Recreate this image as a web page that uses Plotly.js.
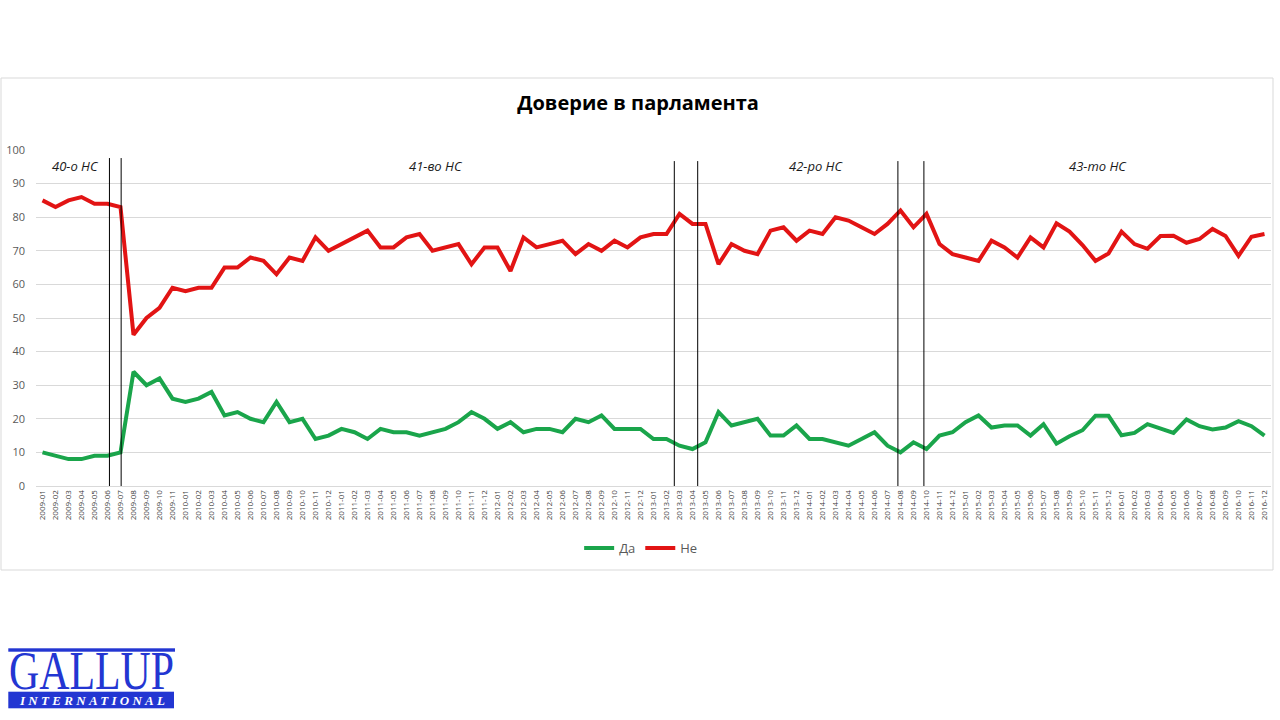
<!DOCTYPE html>
<html>
<head>
<meta charset="utf-8">
<script src="https://cdn.plot.ly/plotly-3.0.1.min.js"></script>
<style>
  body { margin: 0; background: #fff; }
  #wrap { position: relative; width: 1280px; height: 720px; }
  #chart { width: 1280px; height: 720px; }
  #logo { position: absolute; left: 0; top: 636px; }
</style>
</head>
<body>
<div id="wrap">
  <div id="chart"></div>
  <svg id="logo" width="260" height="84">
    <rect x="8.3" y="12.3" width="166.7" height="3.4" fill="#2336d2"></rect>
    <text x="9" y="53.3" fill="#2336d2" font-family="Liberation Serif" font-size="54" textLength="165" lengthAdjust="spacingAndGlyphs">GALLUP</text>
    <rect x="8.3" y="55.7" width="165.7" height="16.6" fill="#2336d2"></rect>
    <text x="20" y="69" fill="#ffffff" font-family="Liberation Serif" font-size="13" font-weight="bold" font-style="italic" textLength="145" lengthAdjust="spacing">INTERNATIONAL</text>
  </svg>
</div>
<script>

var months = [
 '2009-01','2009-02','2009-03','2009-04','2009-05','2009-06','2009-07','2009-08','2009-09','2009-10','2009-11',
 '2010-01','2010-02','2010-03','2010-04','2010-05','2010-06','2010-07','2010-08','2010-09','2010-10','2010-11','2010-12',
 '2011-01','2011-02','2011-03','2011-04','2011-05','2011-06','2011-07','2011-08','2011-09','2011-10','2011-11','2011-12',
 '2012-01','2012-02','2012-03','2012-04','2012-05','2012-06','2012-07','2012-08','2012-09','2012-10','2012-11','2012-12',
 '2013-01','2013-02','2013-03','2013-04','2013-05','2013-06','2013-07','2013-08','2013-09','2013-10','2013-11','2013-12',
 '2014-01','2014-02','2014-03','2014-04','2014-05','2014-06','2014-07','2014-08','2014-09','2014-10','2014-11','2014-12',
 '2015-01','2015-02','2015-03','2015-04','2015-05','2015-06','2015-07','2015-08','2015-09','2015-10','2015-11','2015-12',
 '2016-01','2016-02','2016-03','2016-04','2016-05','2016-06','2016-07','2016-08','2016-09','2016-10','2016-11','2016-12'
];

// "Да"
var yesVals = [
 10, 9, 8, 8, 9, 9, 10, 34, 30, 32, 26, 25, 26, 28,
 21, 22, 20, 19, 25, 19, 20, 14, 15, 17, 16, 14, 17, 16, 16, 15,
 16, 17, 19, 22, 20, 17, 19, 16, 17, 17, 16, 20, 19, 21, 17, 17, 17,
 14, 14, 12, 11, 13, 22, 18, 19, 20, 15, 15, 18, 14, 14, 13, 12,
 14, 16, 12, 10, 13, 11, 15, 16, 19, 21, 17.4, 18, 18, 15, 18.4, 12.6,
 14.8, 16.6, 20.9, 20.9, 15.1, 15.8, 18.4, 17, 15.8, 19.8, 17.8, 16.8, 17.4, 19.3, 17.8, 15
];

// "Не"
var noVals = [
 85, 83, 85, 86, 84, 84, 83, 45, 50, 53, 59, 58, 59, 59,
 65, 65, 68, 67, 63, 68, 67, 74, 70, 72, 74, 76, 71, 71, 74, 75,
 70, 71, 72, 66, 71, 71, 64, 74, 71, 72, 73, 69, 72, 70, 73, 71, 74,
 75, 75, 81, 78, 78, 66, 72, 70, 69, 76, 77, 73, 76, 75, 80, 79,
 77, 75, 78, 82, 77, 81, 72, 69, 68, 67, 73, 71, 68, 74, 71, 78.2,
 75.7, 71.7, 67, 69.2, 75.7, 72, 70.6, 74.4, 74.5, 72.4, 73.5, 76.5, 74.4, 68.5, 74.2, 75
];

var termLabels = ['40-о НС', '41-во НС', '42-ро НС', '43-то НС'];
var termLabelPos = [2.5, 30.3, 59.5, 81.2];
var termLinePos = [5.15, 6.05, 48.6, 50.4, 65.8, 67.8];

// plot area in pixels: left 36, top 150, width 1235, height 336
function px(x) { return (x - 36) / 1235; }
function py(y) { return (486 - y) / 336; }

var trace1 = {
  x: months,
  y: yesVals,
  name: 'Да',
  type: 'scatter',
  mode: 'lines',
  line: {color: '#1aa54b', width: 4}
};

var trace2 = {
  x: months,
  y: noVals,
  name: 'Не',
  type: 'scatter',
  mode: 'lines',
  line: {color: '#e21414', width: 4}
};

var shapes = [{
  type: 'rect', xref: 'paper', yref: 'paper',
  x0: px(1), x1: px(1273), y0: py(570), y1: py(78),
  line: {color: '#d9d9d9', width: 1}, layer: 'below'
}];
for (let i = 0; i < termLinePos.length; i++) {
  shapes.push({
    type: 'line', xref: 'x', yref: 'y',
    x0: termLinePos[i], x1: termLinePos[i],
    y0: 0, y1: i < 2 ? 97.6 : 96.7,
    line: {color: '#000000', width: 1}, layer: 'above'
  });
}

var annotations = [];
for (let i = 0; i < termLabels.length; i++) {
  annotations.push({
    x: termLabelPos[i], y: 95.3, xref: 'x', yref: 'y',
    text: '<i>' + termLabels[i] + '</i>', showarrow: false,
    font: {family: 'Open Sans', size: 13, color: '#1a1a1a'}
  });
}

var layout = {
  width: 1280,
  height: 720,
  paper_bgcolor: '#ffffff',
  plot_bgcolor: '#ffffff',
  margin: {l: 36, r: 9, t: 150, b: 234},
  font: {family: 'Open Sans', color: '#595959'},
  title: {
    text: 'Доверие в парламента',
    xref: 'container', yref: 'container',
    x: 0.4985, y: 1 - 103 / 720, xanchor: 'center', yanchor: 'middle',
    font: {family: 'Open Sans', size: 20, weight: 700, color: '#000000'}
  },
  xaxis: {
    type: 'category',
    range: [-0.5, 94.5],
    tickmode: 'array',
    tickvals: months,
    ticktext: months,
    tickangle: -90,
    tickfont: {size: 8, color: '#404040'},
    showgrid: false,
    showline: true,
    linecolor: '#d9d9d9',
    ticks: '',
    fixedrange: true
  },
  yaxis: {
    range: [0, 100],
    dtick: 10,
    tickfont: {size: 11, color: '#595959'},
    gridcolor: '#d9d9d9',
    zeroline: false,
    showline: false,
    ticklabelstandoff: 10,
    fixedrange: true
  },
  showlegend: true,
  legend: {
    orientation: 'h',
    x: 0.49, xanchor: 'center',
    y: py(548), yanchor: 'middle',
    font: {size: 13, color: '#595959'}
  },
  shapes: shapes,
  annotations: annotations
};

Plotly.newPlot('chart', [trace1, trace2], layout, {displayModeBar: false, staticPlot: true});

</script>
</body>
</html>
